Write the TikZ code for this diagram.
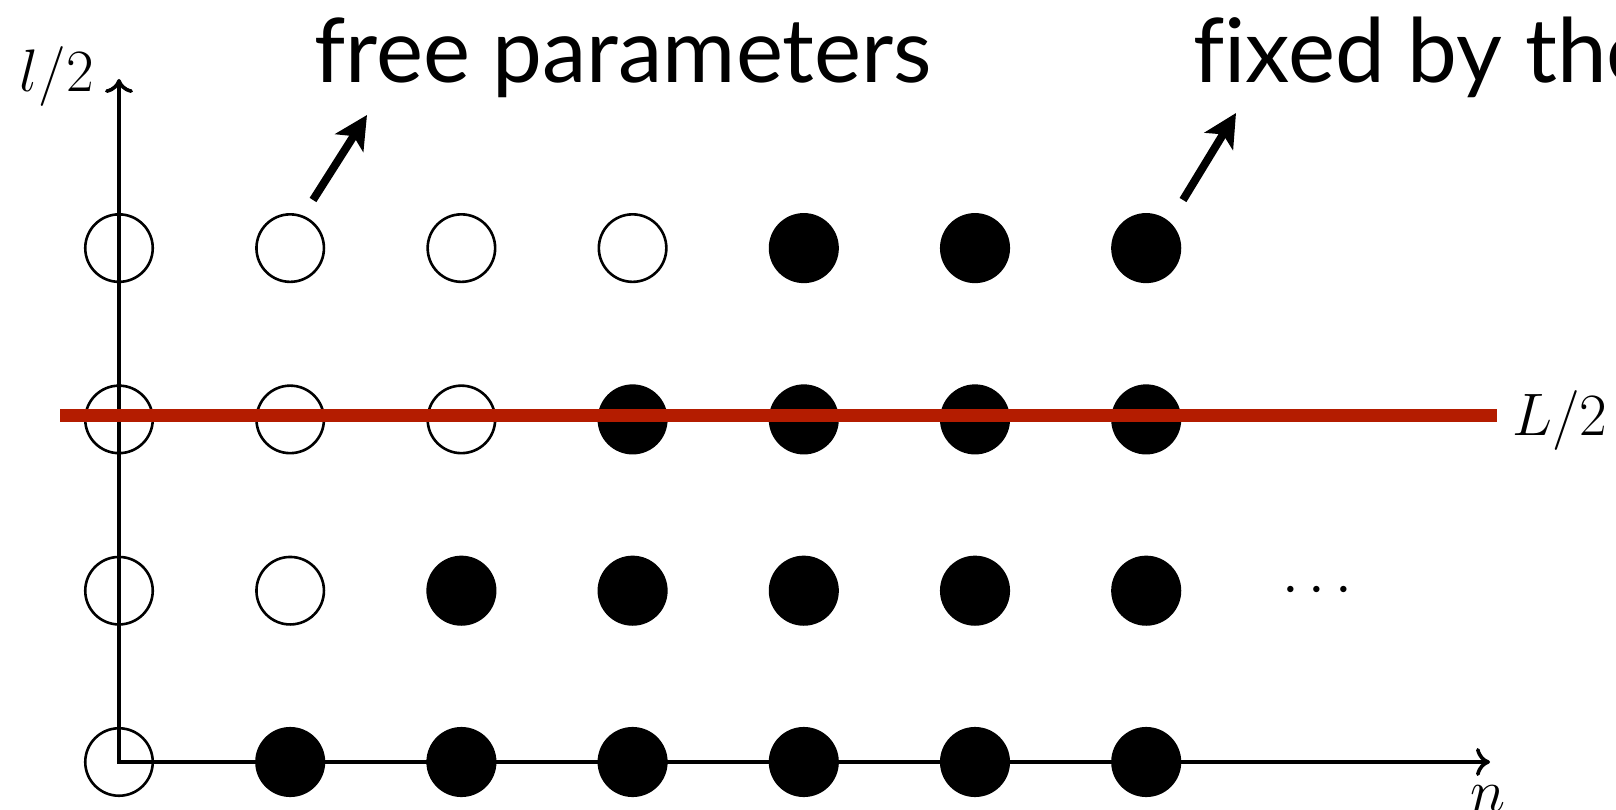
\documentclass[tikz,border=0pt]{standalone}
\usepackage{fix-cm}
\usepackage{fontspec}
\setsansfont{Lato}[Ligatures=NoCommon]
\usetikzlibrary{arrows.meta}
\definecolor{lineRed}{RGB}{180,28,0}
\begin{document}
\begin{tikzpicture}[x=1pt,y=-1pt,
  dotopen/.style={circle,draw=black,line width=2.6pt,minimum size=67.5pt,inner sep=0pt},
  dotfull/.style={dotopen,fill=black},
  axis/.style={line width=3.6pt,{Computer Modern Rightarrow[length=14pt,width=28pt]}-{Computer Modern Rightarrow[length=14pt,width=28pt]}},
  pointer/.style={line width=8pt,-{Stealth[length=33pt,width=33pt,inset=8pt]}},
  redbar/.style={line width=13pt,draw=lineRed},
  lbl/.style={font=\sffamily\fontsize{89}{92}\selectfont,inner sep=0pt,anchor=base west},
  mlbl/.style={font=\fontsize{60}{62}\selectfont,inner sep=0pt}]
\useasboundingbox (0,0) rectangle (1616,810);
% lattice
\foreach \r in {0,...,3}{
  \foreach \i in {0,...,6}{
    \pgfmathsetmacro\cx{119+171.2*\i}
    \pgfmathsetmacro\cy{762-171.3*\r}
    \ifnum\i>\r
      \node[dotfull] (c-\i-\r) at (\cx,\cy) {};
    \else
      \node[dotopen] (c-\i-\r) at (\cx,\cy) {};
    \fi
  }
}
% axes
\coordinate (O) at (119,762);
\coordinate (ytop) at (119,79);
\coordinate (xend) at (1490,762);
\draw[axis] (ytop) -- (O) -- (xend);
\node[mlbl,anchor=base east] (ylab) at (94,92) {$l/2$};
\node[mlbl,anchor=base] (xlab) at (1488,811) {$n$};
% red line
\coordinate (rl) at (60,415);
\coordinate (rr) at (1497,415);
\draw[redbar] (rl) -- (rr);
\node[mlbl,anchor=base west] (Llab) at (1512,435) {$L/2$};
% dots
\node[mlbl,anchor=base] (dots) at (1317,604) {$\cdots$};
% annotations
\node[lbl] (free) at (314,83) {free parameters};
\node[lbl] (fixed) at (1193,83) {fixed by the};
\coordinate (fa0) at (313,200);
\coordinate (fa1) at (367,115);
\coordinate (xa0) at (1183,200);
\coordinate (xa1) at (1236,113);
\draw[pointer] (fa0) -- (fa1);
\draw[pointer] (xa0) -- (xa1);
\end{tikzpicture}
\end{document}
